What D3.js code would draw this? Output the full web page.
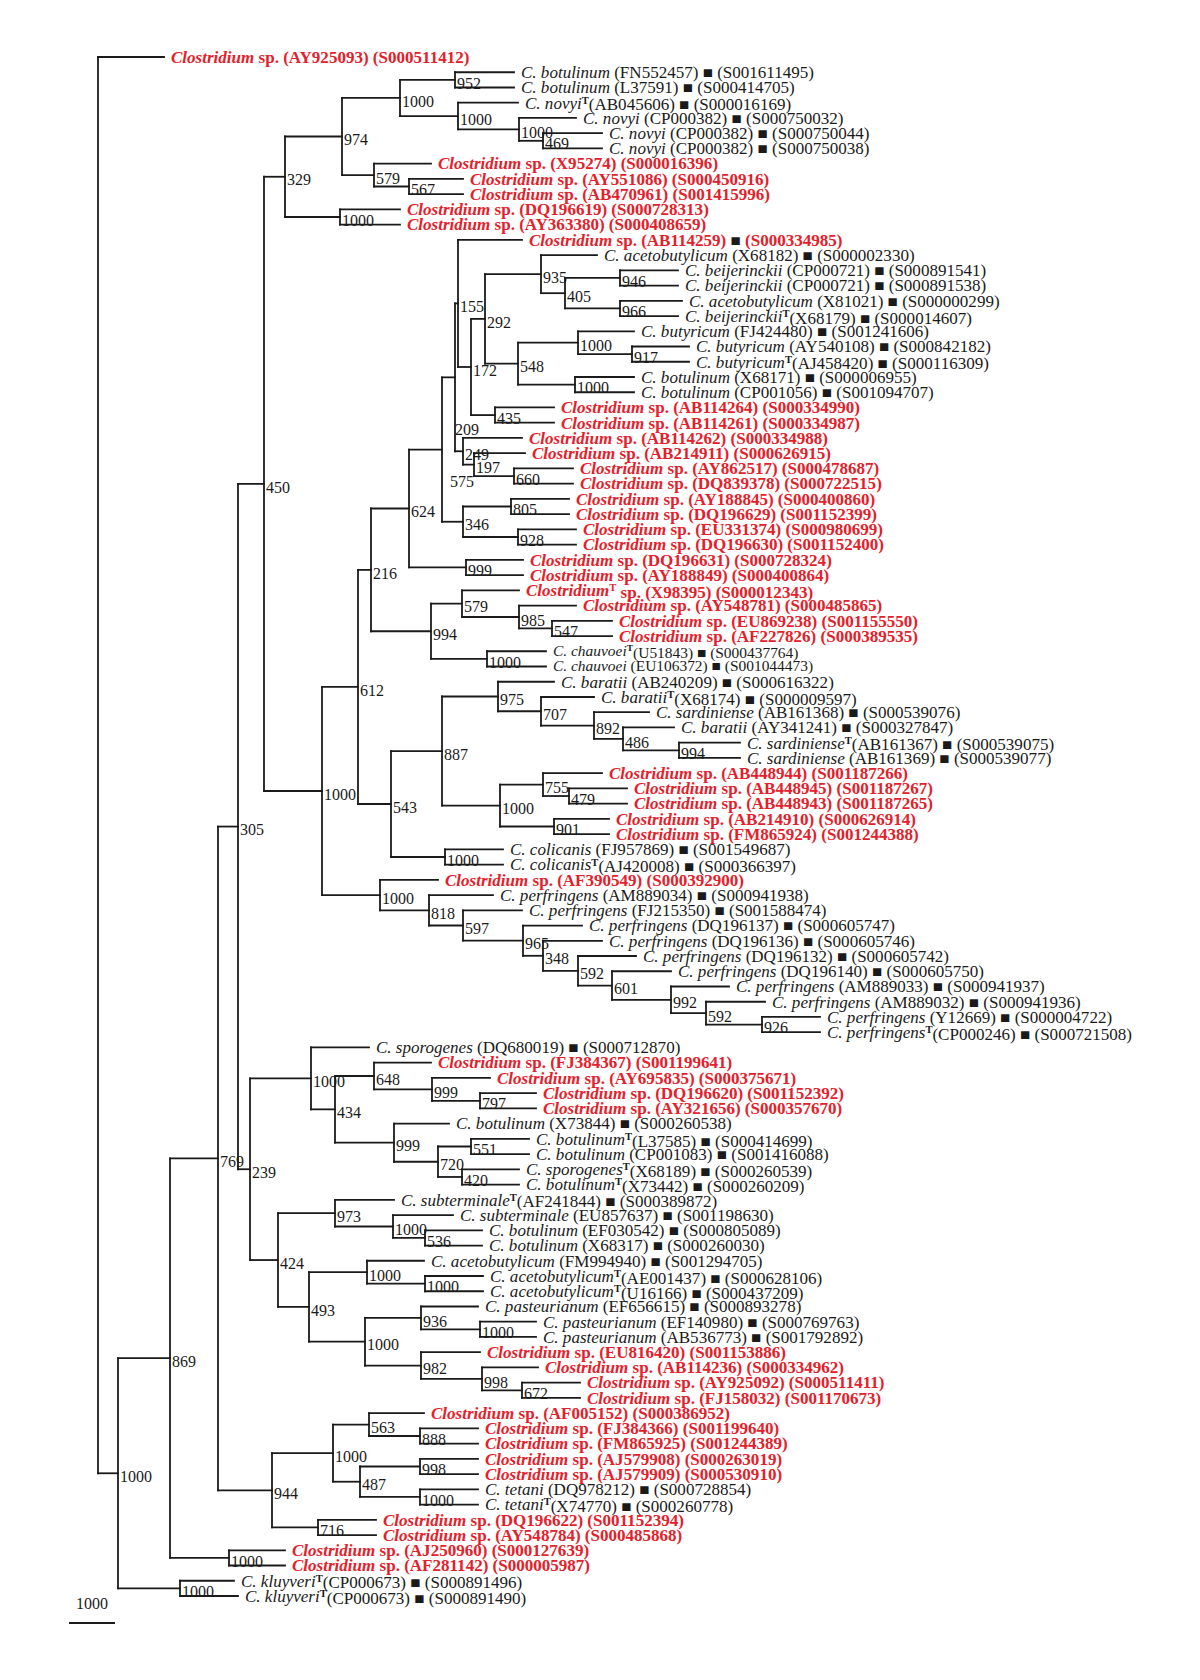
<!DOCTYPE html>
<html><head><meta charset="utf-8">
<script src="https://cdn.jsdelivr.net/npm/d3@7"></script>
<style>
body{margin:0;background:#fff}
svg{display:block}
text{font-family:"Liberation Serif","Times New Roman",serif}
</style></head><body>
<svg id="c" width="1200" height="1680"></svg>
<script>
// ---------- DATA ----------
// Leaves, top to bottom
const leafTaxon = ["Clostridium sp.","C. botulinum","C. botulinum","C. novyi","C. novyi","C. novyi","C. novyi",
"Clostridium sp.","Clostridium sp.","Clostridium sp.","Clostridium sp.","Clostridium sp.","Clostridium sp.",
"C. acetobutylicum","C. beijerinckii","C. beijerinckii","C. acetobutylicum","C. beijerinckii",
"C. butyricum","C. butyricum","C. butyricum","C. botulinum","C. botulinum",
"Clostridium sp.","Clostridium sp.","Clostridium sp.","Clostridium sp.","Clostridium sp.","Clostridium sp.","Clostridium sp.","Clostridium sp.",
"Clostridium sp.","Clostridium sp.","Clostridium sp.","Clostridium sp.","Clostridium sp.","Clostridium sp.","Clostridium sp.","Clostridium sp.",
"C. chauvoei","C. chauvoei","C. baratii","C. baratii","C. sardiniense","C. baratii","C. sardiniense","C. sardiniense",
"Clostridium sp.","Clostridium sp.","Clostridium sp.","Clostridium sp.","Clostridium sp.",
"C. colicanis","C. colicanis","Clostridium sp.",
"C. perfringens","C. perfringens","C. perfringens","C. perfringens","C. perfringens","C. perfringens","C. perfringens","C. perfringens","C. perfringens","C. perfringens",
"C. sporogenes","Clostridium sp.","Clostridium sp.","Clostridium sp.","Clostridium sp.",
"C. botulinum","C. botulinum","C. botulinum","C. sporogenes","C. botulinum",
"C. subterminale","C. subterminale","C. botulinum","C. botulinum",
"C. acetobutylicum","C. acetobutylicum","C. acetobutylicum","C. pasteurianum","C. pasteurianum","C. pasteurianum",
"Clostridium sp.","Clostridium sp.","Clostridium sp.","Clostridium sp.","Clostridium sp.","Clostridium sp.","Clostridium sp.","Clostridium sp.","Clostridium sp.",
"C. tetani","C. tetani","Clostridium sp.","Clostridium sp.","Clostridium sp.","Clostridium sp.","C. kluyveri","C. kluyveri"];
const leafAccession = ["AY925093","FN552457","L37591","AB045606","CP000382","CP000382","CP000382","X95274","AY551086","AB470961",
"DQ196619","AY363380","AB114259","X68182","CP000721","CP000721","X81021","X68179","FJ424480","AY540108",
"AJ458420","X68171","CP001056","AB114264","AB114261","AB114262","AB214911","AY862517","DQ839378","AY188845",
"DQ196629","EU331374","DQ196630","DQ196631","AY188849","X98395","AY548781","EU869238","AF227826","U51843",
"EU106372","AB240209","X68174","AB161368","AY341241","AB161367","AB161369","AB448944","AB448945","AB448943",
"AB214910","FM865924","FJ957869","AJ420008","AF390549","AM889034","FJ215350","DQ196137","DQ196136","DQ196132",
"DQ196140","AM889033","AM889032","Y12669","CP000246","DQ680019","FJ384367","AY695835","DQ196620","AY321656",
"X73844","L37585","CP001083","X68189","X73442","AF241844","EU857637","EF030542","X68317","FM994940",
"AE001437","U16166","EF656615","EF140980","AB536773","EU816420","AB114236","AY925092","FJ158032","AF005152",
"FJ384366","FM865925","AJ579908","AJ579909","DQ978212","X74770","DQ196622","AY548784","AJ250960","AF281142",
"CP000673","CP000673"];
const leafRdp = ["S000511412","S001611495","S000414705","S000016169","S000750032","S000750044","S000750038","S000016396","S000450916","S001415996",
"S000728313","S000408659","S000334985","S000002330","S000891541","S000891538","S000000299","S000014607","S001241606","S000842182",
"S000116309","S000006955","S001094707","S000334990","S000334987","S000334988","S000626915","S000478687","S000722515","S000400860",
"S001152399","S000980699","S001152400","S000728324","S000400864","S000012343","S000485865","S001155550","S000389535","S000437764",
"S001044473","S000616322","S000009597","S000539076","S000327847","S000539075","S000539077","S001187266","S001187267","S001187265",
"S000626914","S001244388","S001549687","S000366397","S000392900","S000941938","S001588474","S000605747","S000605746","S000605742",
"S000605750","S000941937","S000941936","S000004722","S000721508","S000712870","S001199641","S000375671","S001152392","S000357670",
"S000260538","S000414699","S001416088","S000260539","S000260209","S000389872","S001198630","S000805089","S000260030","S001294705",
"S000628106","S000437209","S000893278","S000769763","S001792892","S001153886","S000334962","S000511411","S001170673","S000386952",
"S001199640","S001244389","S000263019","S000530910","S000728854","S000260778","S001152394","S000485868","S000127639","S000005987",
"S000891496","S000891490"];
// 1-based leaf numbers
const typeStrainLeaves = [4,18,21,36,40,43,46,54,65,72,74,75,76,81,82,96,101,102];
const squareMarkedNovel = [13];
const leafParent = ["root","n952","n952","nNovyi","nNovyi2","n469","n469","n579a","n567","n567",
"nDQ619","nDQ619","n155","n935","n946","n946","n966","n966","nBut","n917",
"n917","nBotX","nBotX","n435","n435","n249","n197","n660","n660","n805",
"n805","n928","n928","n999a","n999a","n579b","n985","n547","n547","nChau",
"nChau","n975","n707","n892","n486","n994b","n994b","n755","n479","n479",
"n901","n901","nColi","nColi","nPerf","n818","n597","n965","n348","n592a",
"n601","n992","n592b","n926","n926","nSpor","n648","n999b","n797","n797",
"n999c","n551","n551","n420","n420","n973","nSub","n536","n536","nAce",
"nAce2","nAce2","n936","nPas2","nPas2","n982","n998a","n672","n672","n563",
"n888","n888","n998b","n998b","nTet2","nTet2","n716","n716","nAJ","nAJ",
"nKly","nKly"];
// distance from root (tree units) of each tip
const leafDist = [66,416,416,420,478,504,504,333,365,365,
302,302,424,499,580,580,584,580,536,591,
591,536,536,456,456,424,427,475,475,471,
471,478,478,425,425,421,478,514,514,448,
448,456,496,551,576,642,642,504,529,529,
511,511,405,405,340,395,424,484,504,538,
573,631,667,722,722,271,333,392,438,438,
351,431,431,421,421,296,355,384,384,326,
385,385,380,438,438,382,440,482,482,326,
380,380,380,380,380,380,278,278,187,187,
136,140];
// internal nodes
const nodeIds = ["root","nA","n869","n769","n305","n450","n329","n974","nBotNov","n952","nNovyi","nNovyi2","n469","n579a","n567","nDQ619",
"nBig","n612","n216","n624","n575","n209","n155","n172","n292","n935","n405","n946","n966","n548","nBut","n917","nBotX","n435",
"n249","n197","n660","n346","n805","n928","n999a","n994","n579b","n985","n547","nChau",
"n543","n887","n975","n707","n892","n486","n994b","nBar","n755","n479","n901","nColi",
"nPerf","n818","n597","n965","n348","n592a","n601","n992","n592b","n926",
"n239","nSpor","n434","n648","n999b","n797","n999c","n720","n551","n420",
"n424","n973","nSub","n536","n493","nAce","nAce2","nPas","n936","nPas2","n982","n998a","n672",
"n944","nTet","n563","n888","n487","n998b","nTet2","n716","nAJ","nKly"];
const nodeParent = ["","root","nA","n869","n769","n305","n450","n329","n974","nBotNov","nBotNov","nNovyi","nNovyi2","n974","n579a","n329",
"n450","nBig","n612","n216","n624","n575","n209","n155","n172","n292","n935","n405","n405","n292","n548","nBut","n548","n172",
"n209","n249","n197","n575","n346","n346","n624","n216","n994","n579b","n985","n994",
"n612","n543","n887","n975","n707","n892","n486","n887","nBar","n755","nBar","n543",
"nBig","nPerf","n818","n597","n965","n348","n592a","n601","n992","n592b",
"n305","n239","nSpor","n434","n648","n999b","n434","n999c","n720","n720",
"n239","n424","n973","nSub","n424","n493","nAce","n493","nPas","n936","nPas","n982","n998a",
"n769","n944","nTet","n563","nTet","n487","n487","n944","n869","nA"];
const nodeDist = [0,20,72,120,140,166,187,244,302,357,360,421,445,276,311,242,
224,260,273,311,344,357,360,373,387,443,467,522,522,420,480,534,477,397,
365,376,416,365,413,420,368,333,364,421,454,389,
293,344,400,443,496,525,581,402,445,471,456,347,
282,331,365,425,445,480,514,573,608,664,
152,213,237,276,334,382,296,340,373,364,
180,237,295,327,211,269,327,267,323,382,323,384,424,
174,235,271,322,262,322,322,220,131,82];
const nodeSupport = ["","1000","869","769","305","450","329","974","1000","952","1000","1000","469","579","567","1000",
"1000","612","216","624","575","209","155","172","292","935","405","946","966","548","1000","917","1000","435",
"249","197","660","346","805","928","999","994","579","985","547","1000",
"543","887","975","707","892","486","994","1000","755","479","901","1000",
"1000","818","597","965","348","592","601","992","592","926",
"239","1000","434","648","999","797","999","720","551","420",
"424","973","1000","536","493","1000","1000","1000","936","1000","982","998","672",
"944","1000","563","888","487","998","1000","716","1000","1000"];
const scaleBarLength = 46;
const scaleBarLabel = "1000";

// ---------- STYLE ----------
const RED = "#e5202a", INK = "#1a1a1a";
const LEAF_FONT = 16, LEAF_STRETCH = 1.065, SUPPORT_FONT = 16;
const smallFontLeaves = [40,41];
const supportShift = {n575:[6,29], n209:[-2,49]};

// ---------- BUILD ----------
const N = leafTaxon.length;
const rows = [];
nodeIds.forEach((id,i)=>rows.push({id, parent: nodeParent[i]||null, dist: nodeDist[i], support: nodeSupport[i], leaf:-1}));
leafParent.forEach((p,i)=>rows.push({id:"L"+i, parent:p, dist:leafDist[i], leaf:i}));
const root = d3.stratify().id(d=>d.id).parentId(d=>d.parent)(rows);

const x = d3.scaleLinear().domain([0,1000]).range([98,1098]);
const y = d3.scaleLinear().domain([0,N-1]).range([57,1596]);

root.eachAfter(n=>{
  if(!n.children){ n.minLeaf=n.data.leaf; n.py=y(n.data.leaf); }
  else{
    n.children.sort((a,b)=>a.minLeaf-b.minLeaf);
    n.minLeaf=n.children[0].minLeaf;
    n.py=(n.children[0].py+n.children[n.children.length-1].py)/2;
  }
  n.px=x(n.data.dist);
});

const svg = d3.select("#c");
const g = svg.append("g");
const links = root.descendants().filter(n=>n.parent);
g.selectAll("line.h").data(links).join("line")
  .attr("x1",d=>d.parent.px).attr("x2",d=>d.px).attr("y1",d=>d.py).attr("y2",d=>d.py)
  .attr("stroke",INK).attr("stroke-width",1.8).attr("stroke-linecap","square");
const inner = root.descendants().filter(n=>n.children);
g.selectAll("line.v").data(inner).join("line")
  .attr("x1",d=>d.px).attr("x2",d=>d.px)
  .attr("y1",d=>d.children[0].py).attr("y2",d=>d.children[d.children.length-1].py)
  .attr("stroke",INK).attr("stroke-width",1.8).attr("stroke-linecap","square");

// support values
g.selectAll("text.sup").data(inner.filter(d=>d.data.support)).join("text")
  .attr("x",d=>d.px+2+(supportShift[d.id]||[0,0])[0])
  .attr("y",d=>d.py+5+(supportShift[d.id]||[0,0])[1])
  .attr("dominant-baseline","middle")
  .attr("font-size",SUPPORT_FONT).attr("fill",INK).text(d=>d.data.support);

// leaf labels
const leaves = root.leaves();
const lab = g.selectAll("text.leaf").data(leaves).join("text")
  .attr("transform",d=>`translate(${d.px+7},${d.py}) scale(${LEAF_STRETCH},1)`)
  .attr("dominant-baseline","central")
  .attr("font-size",d=>smallFontLeaves.includes(d.data.leaf+1)?LEAF_FONT-1.5:LEAF_FONT);
lab.each(function(d){
  const i=d.data.leaf, t=d3.select(this);
  const isNovel = leafTaxon[i].startsWith("Clostridium");
  const isType = typeStrainLeaves.includes(i+1);
  const sq = !isNovel || squareMarkedNovel.includes(i+1);
  const col = isNovel?RED:INK;
  t.attr("fill",col).attr("font-weight",isNovel?"bold":"normal");
  if(isNovel){
    t.append("tspan").attr("font-style","italic").text("Clostridium");
    if(isType) t.append("tspan").attr("font-size","0.62em").attr("dy","-0.3em").text("T");
    t.append("tspan").attr("dy",isType?"0.3em":null).text(" sp. ("+leafAccession[i]+") ");
    if(sq) t.append("tspan").attr("fill",INK).text("\u25A0 ");
    t.append("tspan").text("("+leafRdp[i]+")");
  } else {
    t.append("tspan").attr("font-style","italic").text(leafTaxon[i]);
    if(isType) t.append("tspan").attr("font-size","0.62em").attr("font-weight","bold").attr("dy","-0.3em").text("T");
    t.append("tspan").attr("dy",isType?"0.3em":null).text((isType?"":" ")+"("+leafAccession[i]+") \u25A0 ("+leafRdp[i]+")");
  }
});

// scale bar
const sbX = 69, sbY = 1623;
const sbW = x(scaleBarLength)-x(0);
svg.append("line").attr("x1",sbX).attr("x2",sbX+sbW).attr("y1",sbY).attr("y2",sbY)
  .attr("stroke",INK).attr("stroke-width",1.8);
svg.append("text").attr("x",sbX+sbW/2).attr("y",sbY-14).attr("text-anchor","middle")
  .attr("font-size",SUPPORT_FONT).attr("fill",INK).text(scaleBarLabel);
</script></body></html>
